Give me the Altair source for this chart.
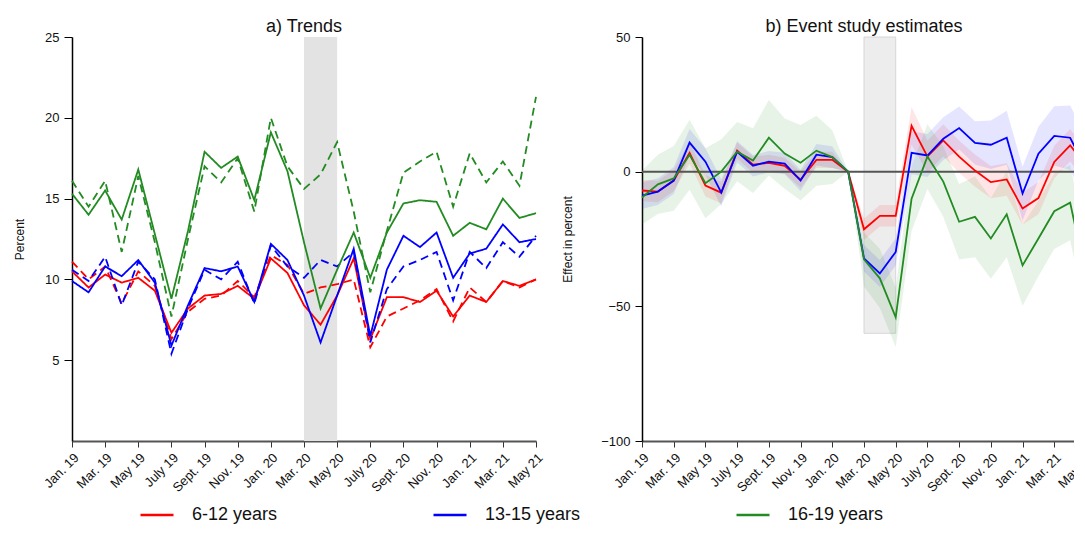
import altair as alt
import pandas as pd

# ---------------- data ----------------
month_idx = list(range(29))  # Jan. 19 ... May 21
tick_labels = ["Jan. 19", "Mar. 19", "May 19", "July 19", "Sept. 19", "Nov. 19",
               "Jan. 20", "Mar. 20", "May 20", "July 20", "Sept. 20", "Nov. 20",
               "Jan. 21", "Mar. 21", "May 21"]
groups = ["6-12 years", "13-15 years", "16-19 years"]
colors = ["#ff0000", "#0000ff", "#228b22"]

# a) Trends (percent): solid = observed, dashed = second series
red_solid = [10.5, 9.5, 10.3, 9.8, 10.1, 9.3, 6.7, 8.2, 9.0, 9.1, 9.6, 8.8, 11.3, 10.4, 8.4,
             7.2, 9.0, 11.3, 6.3, 8.9, 8.9, 8.6, 9.3, 7.7, 9.0, 8.6, 9.9, 9.6, 10.0]
red_dash = [11.1, 10.0, 10.8, 8.5, 10.5, 9.6, 6.3, 8.0, 8.8, 9.0, 9.9, 8.9, 11.5, 10.9, 9.1,
            9.5, 9.7, 10.0, 5.8, 7.7, 8.2, 8.7, 9.4, 7.4, 9.5, 8.6, 9.9, 9.5, 10.0]
blue_solid = [9.9, 9.2, 10.8, 10.2, 11.2, 9.8, 5.9, 8.4, 10.7, 10.5, 10.8, 8.6, 12.2, 11.2, 9.0,
              6.1, 9.0, 11.9, 6.5, 10.6, 12.7, 12.0, 12.9, 10.1, 11.6, 11.9, 13.4, 12.3, 12.5]
blue_dash = [10.6, 9.9, 11.4, 8.4, 11.1, 10.0, 5.4, 8.2, 10.6, 10.0, 11.1, 8.5, 12.1, 10.8, 10.1,
             11.2, 10.8, 11.7, 6.1, 9.4, 10.8, 11.2, 11.7, 8.7, 11.7, 10.7, 12.3, 11.4, 12.7]
green_solid = [15.3, 14.0, 15.5, 13.7, 16.8, 12.8, 8.8, 13.0, 17.9, 16.9, 17.6, 14.9, 19.1, 16.7, 12.3,
               8.2, 10.6, 12.9, 10.1, 12.9, 14.7, 14.9, 14.8, 12.7, 13.5, 13.1, 15.0, 13.8, 14.1]
green_dash = [16.1, 14.5, 16.1, 11.7, 16.4, 12.3, 7.7, 12.5, 17.0, 16.0, 17.5, 14.2, 20.0, 17.0, 15.6,
              16.5, 18.5, 14.2, 9.2, 13.0, 16.6, 17.3, 17.9, 14.5, 17.8, 16.0, 17.3, 15.8, 21.3]

# b) Event study estimates (effect in percent) and CI half-widths
red_est = [-7.0, -7.4, -3.3, 7.0, -5.2, -7.8, 7.8, 2.6, 3.3, 2.2, -3.0, 4.4, 4.4, 0.0, -21.4,
           -16.4, -16.4, 17.0, 5.6, 11.6, 5.6, 0.4, -3.9, -2.9, -13.7, -9.8, 3.6, 9.8, 2.2]
blue_est = [-8.9, -7.4, -3.3, 10.8, 3.7, -7.8, 7.4, 2.2, 3.7, 3.0, -3.3, 6.3, 5.4, 0.0, -32.2,
            -37.8, -29.8, 7.0, 6.0, 12.2, 16.2, 10.7, 10.0, 12.6, -8.1, 6.7, 13.3, 12.6, 1.0]
green_est = [-9.6, -4.7, -2.5, 6.3, -4.3, 0.0, 7.4, 4.1, 12.6, 6.7, 3.3, 7.8, 5.4, 0.0, -32.6,
             -39.6, -54.1, -10.0, 5.6, -3.7, -18.6, -16.8, -24.8, -15.8, -34.8, -24.8, -14.7, -11.5, -39.0]
red_hw = [4, 4, 4, 4, 4, 4, 3, 3, 3, 3, 3, 3, 3, 0, 4, 4, 4, 7, 6, 6, 6, 6, 6, 6, 6, 6, 6, 6, 6]
blue_hw = [5, 5, 5, 5, 5, 5, 4, 4, 4, 4, 4, 4, 4, 0, 5, 5, 5, 8, 8, 8, 8, 8, 9, 10, 10, 10, 11, 12, 12]
green_hw = [10, 11, 12, 13, 13, 12, 11, 12, 14, 13, 14, 13, 10, 0, 10, 11, 11,
            12, 12, 13, 14, 15, 15, 16, 15, 14, 14, 14, 14]

covid_start, covid_end = 14, 16        # Mar. 20 - May 20
left_y_range = [0, 25]
right_shade_range = [-60, 50]

# ---------------- tables ----------------
trend_rows = []
for g, s, d in zip(groups, [red_solid, blue_solid, green_solid], [red_dash, blue_dash, green_dash]):
    for i in month_idx:
        trend_rows.append({"idx": i, "value": s[i], "group": g, "kind": "solid"})
        trend_rows.append({"idx": i, "value": d[i], "group": g, "kind": "dashed"})
trend_df = pd.DataFrame(trend_rows)

est_rows = []
for g, e, h in zip(groups, [red_est, blue_est, green_est], [red_hw, blue_hw, green_hw]):
    for i in month_idx:
        est_rows.append({"idx": i, "est": e[i], "lo": e[i] - h[i], "hi": e[i] + h[i], "group": g})
est_df = pd.DataFrame(est_rows)

shade_left = pd.DataFrame({"s": [covid_start], "e": [covid_end],
                           "lo": [left_y_range[0]], "hi": [left_y_range[1]]})
shade_right = pd.DataFrame({"s": [covid_start], "e": [covid_end],
                            "lo": [right_shade_range[0]], "hi": [right_shade_range[1]]})
zero_df = pd.DataFrame({"y": [0]})

# ---------------- styling ----------------
FONT = "Liberation Sans"
label_expr = "[" + ",".join("'%s'" % t for t in tick_labels) + "][round(datum.value / 2)]"

color_scale = alt.Scale(domain=groups, range=colors)
legend = alt.Legend(orient="none", legendX=67, legendY=460, direction="horizontal",
                    title=None, symbolType="stroke", symbolSize=1089, symbolStrokeWidth=2.5,
                    labelFontSize=18, labelFont=FONT, labelColor="#111", labelOffset=17,
                    columnPadding=150, padding=0)


def x_enc():
    return alt.X("idx:Q",
                 scale=alt.Scale(domain=[0, 28], nice=False, zero=False),
                 axis=alt.Axis(values=list(range(0, 29, 2)), tickCount=29, labelExpr=label_expr,
                               labelAngle=-45, title=None, labelFontSize=13,
                               labelOverlap=False, labelBound=False,
                               domainColor="#555", domainWidth=2, tickColor="#333",
                               tickSize=6, labelPadding=4))


W_L, W_R, H = 464, 444, 404

# ---------------- left panel ----------------
l_shade = alt.Chart(shade_left).mark_rect(color="#e3e3e3").encode(
    x=alt.X("s:Q"), x2="e:Q", y=alt.Y("lo:Q"), y2="hi:Q")
l_lines = alt.Chart(trend_df).mark_line(strokeWidth=1.8).encode(
    x=x_enc(),
    y=alt.Y("value:Q", scale=alt.Scale(domain=left_y_range, nice=False),
            axis=alt.Axis(values=[5, 10, 15, 20, 25], title="Percent", titleFontSize=12,
                          titleFontWeight="normal", titlePadding=18, labelFontSize=13,
                          tickSize=8, labelPadding=5, domainWidth=1.5)),
    color=alt.Color("group:N", scale=color_scale, legend=legend),
    strokeDash=alt.StrokeDash("kind:N", scale=alt.Scale(domain=["solid", "dashed"],
                                                          range=[[1, 0], [8, 5]]), legend=None),
    detail="kind:N",
)
left = alt.layer(l_shade, l_lines).properties(
    width=W_L, height=H,
    title=alt.Title("a) Trends", fontSize=18, font=FONT, fontWeight="normal", offset=-5))

# ---------------- right panel ----------------
r_shade = alt.Chart(shade_right).mark_rect(color="#ededed", stroke="#d6d6d6", strokeWidth=1).encode(
    x=alt.X("s:Q"), x2="e:Q", y=alt.Y("lo:Q"), y2="hi:Q")
r_band = alt.Chart(est_df).mark_area(fillOpacity=0.1).encode(
    x=x_enc(),
    y=alt.Y("lo:Q"), y2="hi:Q",
    color=alt.Color("group:N", scale=color_scale, legend=legend))
r_zero = alt.Chart(zero_df).mark_rule(color="#555", strokeWidth=2).encode(y="y:Q")
r_lines = alt.Chart(est_df).mark_line(strokeWidth=1.8).encode(
    x=x_enc(),
    y=alt.Y("est:Q", scale=alt.Scale(domain=[-100, 50], nice=False),
            axis=alt.Axis(values=[-100, -50, 0, 50], title="Effect in percent", titleFontSize=12,
                          titleFontWeight="normal", titlePadding=26, labelFontSize=13,
                          tickSize=7, labelPadding=5, domainWidth=1.5)),
    color=alt.Color("group:N", scale=color_scale, legend=legend))
right = alt.layer(r_shade, r_band, r_zero, r_lines).properties(
    width=W_R, height=H,
    title=alt.Title("b) Event study estimates", fontSize=18, font=FONT, fontWeight="normal", offset=-5))

chart = alt.hconcat(left, right, spacing=15).properties(
    padding={"left": 5, "top": 10, "right": -22, "bottom": 0}
).configure_view(stroke=None).configure_axis(
    labelFont=FONT, titleFont=FONT, labelColor="#111", titleColor="#111",
    domainColor="#000", tickColor="#000", grid=False
).configure_axisX(labelOverlap=False).configure_title(color="#111")

chart.save("out.html", embed_options={"renderer": "svg", "actions": False})
